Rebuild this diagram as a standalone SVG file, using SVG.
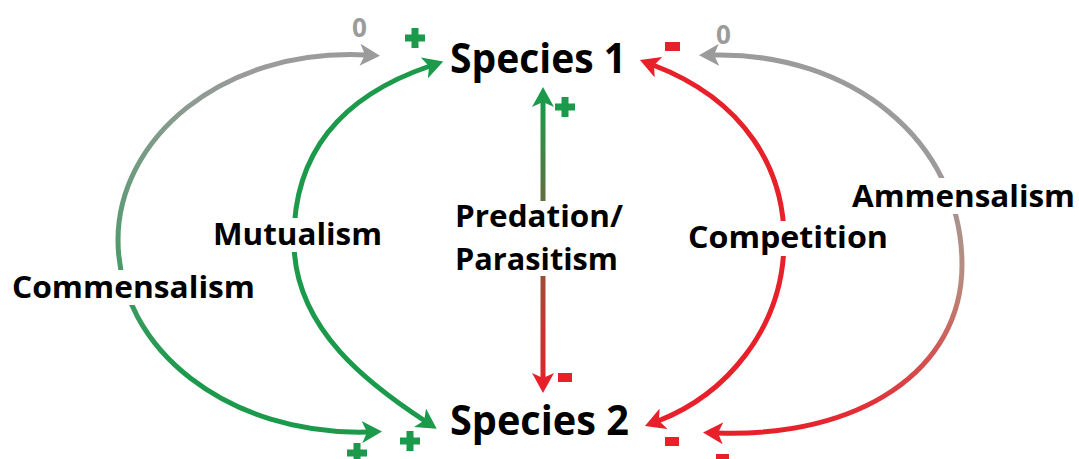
<svg xmlns="http://www.w3.org/2000/svg" xmlns:xlink="http://www.w3.org/1999/xlink" width="1079" height="459" viewBox="0 0 1079 459">
  <style>
    .lbl { font-family: "Open Sans", "Liberation Sans", sans-serif; font-weight: 700; fill: #000; }
    .node { font-size: 42px; }
    .rel { font-size: 31px; }
    .zero { font-family: "Open Sans", "Liberation Sans", sans-serif; font-weight: 700; font-size: 26px; fill: #9b9b9b; text-anchor: middle; }
    .arc { fill: none; stroke-width: 5; }
    .knock { fill: #fff; }
    .plus { fill: #1b9a4b; }
    .minus { fill: #e8202a; }
  </style>
  <defs>
    <marker id="arrGray" viewBox="0 0 20 22" markerWidth="20" markerHeight="22" refX="6" refY="11" markerUnits="userSpaceOnUse" orient="auto-start-reverse">
      <path d="M0,0 L20,11 L0,22 L5,11 Z" fill="#9b9b9b"/>
    </marker>
    <marker id="arrGreen" viewBox="0 0 20 22" markerWidth="20" markerHeight="22" refX="6" refY="11" markerUnits="userSpaceOnUse" orient="auto-start-reverse">
      <path d="M0,0 L20,11 L0,22 L5,11 Z" fill="#1b9a4b"/>
    </marker>
    <marker id="arrRed" viewBox="0 0 20 22" markerWidth="20" markerHeight="22" refX="6" refY="11" markerUnits="userSpaceOnUse" orient="auto-start-reverse">
      <path d="M0,0 L20,11 L0,22 L5,11 Z" fill="#e8202a"/>
    </marker>
    <linearGradient id="gGrayGreen" gradientUnits="userSpaceOnUse" x1="0" y1="70" x2="0" y2="380">
      <stop offset="0" stop-color="#9b9b9b"/>
      <stop offset="1" stop-color="#1b9a4b"/>
    </linearGradient>
    <linearGradient id="gGrayRed" gradientUnits="userSpaceOnUse" x1="0" y1="160" x2="0" y2="430">
      <stop offset="0" stop-color="#9b9b9b"/>
      <stop offset="0.45" stop-color="#b98a7c"/>
      <stop offset="1" stop-color="#e8202a"/>
    </linearGradient>
    <linearGradient id="gGreenRed" gradientUnits="userSpaceOnUse" x1="0" y1="100" x2="0" y2="385">
      <stop offset="0" stop-color="#1b9a4b"/>
      <stop offset="1" stop-color="#e8202a"/>
    </linearGradient>
    <path id="plus" d="M-3.5,-10 H3.5 V-3.5 H10 V3.5 H3.5 V10 H-3.5 V3.5 H-10 V-3.5 H-3.5 Z"/>
  </defs>

  <!-- relationship arcs between the two species -->
  <g id="connectors">
    <path id="commensalism" class="arc" stroke="url(#gGrayGreen)" marker-start="url(#arrGray)" marker-end="url(#arrGreen)"
          d="M366,55 C220,48 118,140 118,240 C118,350 230,436 368,432"/>
    <path id="mutualism" class="arc" stroke="#1b9a4b" marker-start="url(#arrGreen)" marker-end="url(#arrGreen)"
          d="M430,66 C330,100 292,165 294,245 C296,330 370,385 425,421"/>
    <path id="predation" class="arc" stroke="url(#gGreenRed)" marker-start="url(#arrGreen)" marker-end="url(#arrRed)"
          d="M543,101 L543,379"/>
    <path id="competition" class="arc" stroke="#e8202a" marker-start="url(#arrRed)" marker-end="url(#arrRed)"
          d="M653,65 C745,100 786,170 784,245 C782,330 725,395 658,421"/>
    <path id="ammensalism" class="arc" stroke="url(#gGrayRed)" marker-start="url(#arrGray)" marker-end="url(#arrRed)"
          d="M713,55 C850,52 962,140 962,265 C962,370 860,438 717,433"/>

    <!-- effect signs at each arrowhead -->
    <text class="zero" x="359.5" y="37">0</text>
    <text class="zero" x="723.5" y="44">0</text>
    <use href="#plus" class="plus" x="415" y="38"/>
    <use href="#plus" class="plus" x="565" y="107"/>
    <use href="#plus" class="plus" x="410" y="441"/>
    <use href="#plus" class="plus" x="357" y="453"/>
    <rect class="minus" x="665" y="42" width="15" height="9"/>
    <rect class="minus" x="558" y="373" width="14" height="9"/>
    <rect class="minus" x="665" y="437" width="14" height="9"/>
    <rect class="minus" x="716" y="454" width="13" height="9"/>

    <!-- relationship names, knocked out of the arcs -->
    <g id="label-commensalism">
      <rect class="knock" x="8" y="270" width="252" height="35"/>
      <text class="lbl rel" x="12" y="298" textLength="243" lengthAdjust="spacingAndGlyphs">Commensalism</text>
    </g>
    <g id="label-mutualism">
      <rect class="knock" x="208" y="218" width="179" height="34"/>
      <text class="lbl rel" x="213" y="245" textLength="169" lengthAdjust="spacingAndGlyphs">Mutualism</text>
    </g>
    <g id="label-predation">
      <rect class="knock" x="450" y="201" width="178" height="75"/>
      <text class="lbl rel" x="455" y="227" textLength="168" lengthAdjust="spacingAndGlyphs">Predation/</text>
      <text class="lbl rel" x="455" y="270" textLength="163" lengthAdjust="spacingAndGlyphs">Parasitism</text>
    </g>
    <g id="label-competition">
      <rect class="knock" x="684" y="221" width="208" height="35"/>
      <text class="lbl rel" x="688" y="248" textLength="200" lengthAdjust="spacingAndGlyphs">Competition</text>
    </g>
    <g id="label-ammensalism">
      <rect class="knock" x="848" y="178" width="230" height="36"/>
      <text class="lbl rel" x="852" y="207" textLength="223" lengthAdjust="spacingAndGlyphs">Ammensalism</text>
    </g>
  </g>

  <!-- species nodes -->
  <g id="species-1">
    <text class="lbl node" x="450" y="73" textLength="176" lengthAdjust="spacingAndGlyphs">Species 1</text>
  </g>
  <g id="species-2">
    <text class="lbl node" x="450" y="435" textLength="179" lengthAdjust="spacingAndGlyphs">Species 2</text>
  </g>
</svg>
